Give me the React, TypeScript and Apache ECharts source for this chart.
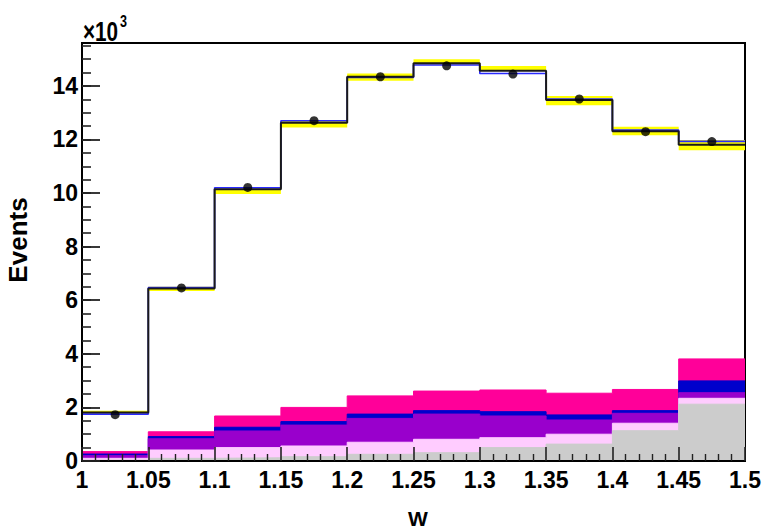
import React, { useEffect, useRef } from "react";
import * as echarts from "echarts";

// Bin edges in W
const binEdges = [1.0, 1.05, 1.1, 1.15, 1.2, 1.25, 1.3, 1.35, 1.4, 1.45, 1.5];

// Event counts per bin, in units of 10^3
const dataK = [1.73, 6.46, 10.21, 12.7, 14.34, 14.75, 14.44, 13.51, 12.29, 11.92];
const mcTotalK = [1.81, 6.44, 10.14, 12.62, 14.34, 14.84, 14.56, 13.47, 12.31, 11.8];
const mcAltK = [1.75, 6.47, 10.2, 12.7, 14.31, 14.78, 14.46, 13.51, 12.35, 11.93];
const bandLowK = [1.79, 6.34, 9.96, 12.45, 14.19, 14.8, 14.56, 13.28, 12.16, 11.6];
const bandHighK = [1.88, 6.5, 10.15, 12.72, 14.46, 14.99, 14.74, 13.62, 12.47, 11.98];

// Background components (stacked from the bottom up), in units of 10^3
const greyK = [0.03, 0.1, 0.12, 0.16, 0.25, 0.31, 0.5, 0.63, 1.13, 2.12];
const lightPinkK = [0.07, 0.31, 0.38, 0.4, 0.45, 0.5, 0.37, 0.37, 0.28, 0.22];
const purpleK = [0.1, 0.42, 0.62, 0.78, 0.89, 0.94, 0.81, 0.53, 0.37, 0.21];
const blueK = [0.06, 0.08, 0.14, 0.13, 0.16, 0.13, 0.16, 0.19, 0.1, 0.44];
const magentaK = [0.09, 0.18, 0.42, 0.53, 0.68, 0.73, 0.81, 0.81, 0.79, 0.82];

const yLabelValues = [0, 2, 4, 6, 8, 10, 12, 14];

const FONT = "'Liberation Sans', Arial, sans-serif";

function stepPoints(values: number[]): number[][] {
  const pts: number[][] = [];
  values.forEach((v, i) => {
    pts.push([binEdges[i], v]);
    pts.push([binEdges[i + 1], v]);
  });
  return pts;
}

function cumulative(layers: number[][]): number[][] {
  const out: number[][] = [];
  let run = layers[0].map(() => 0);
  layers.forEach((layer) => {
    run = run.map((r, i) => r + layer[i]);
    out.push(run.slice());
  });
  return out;
}

export default function App() {
  const ref = useRef<HTMLDivElement>(null);

  useEffect(() => {
    if (!ref.current) return;
    const chart = echarts.init(ref.current, null, { renderer: "svg" });

    const [greyTop, lightPinkTop, purpleTop, blueTop, magentaTop] = cumulative([
      greyK,
      lightPinkK,
      purpleK,
      blueK,
      magentaK,
    ]);

    const fillLayer = (name: string, tops: number[], color: string, z: number) => ({
      name,
      type: "line",
      data: stepPoints(tops),
      symbol: "none",
      z,
      lineStyle: { color, width: 1 },
      areaStyle: { color, opacity: 1 },
    });

    const binCenters = dataK.map((_, i) => (binEdges[i] + binEdges[i + 1]) / 2);

    const minorYTicks: number[] = [];
    for (let i = 0; i <= 31; i++) minorYTicks.push(i * 0.5);

    const labelStyle = {
      color: "#000",
      fontFamily: FONT,
      fontWeight: "bold",
      fontSize: 23,
    };

    chart.setOption({
      animation: false,
      backgroundColor: "#ffffff",
      grid: {
        left: 82,
        right: 20,
        top: 43,
        bottom: 70,
        show: true,
        borderColor: "#000",
        borderWidth: 2,
        backgroundColor: "#fff",
      },
      xAxis: {
        type: "value",
        min: 1,
        max: 1.5,
        interval: 0.05,
        z: 10,
        axisLine: { show: true, onZero: false, lineStyle: { color: "#000", width: 2 } },
        axisTick: { show: true, inside: true, length: 14, lineStyle: { color: "#222", width: 1.6 } },
        minorTick: { show: true, splitNumber: 5, length: 7, lineStyle: { color: "#222", width: 1.4 } },
        splitLine: { show: false },
        axisLabel: {
          ...labelStyle,
          margin: 7,
          formatter: (v: number) => String(Math.round(v * 100) / 100),
        },
      },
      yAxis: [
        {
          type: "value",
          position: "left",
          min: 0,
          max: 15.6,
          interval: 0.5,
          z: 10,
          axisLine: { show: true, onZero: false, lineStyle: { color: "#000", width: 2 } },
          axisTick: {
            show: true,
            inside: true,
            length: 9,
            customValues: minorYTicks,
            lineStyle: { color: "#222", width: 1.6 },
          },
          splitLine: { show: false },
          axisLabel: {
            ...labelStyle,
            customValues: yLabelValues,
            margin: 4,
            formatter: (v: number) => String(v),
          },
        },
        {
          type: "value",
          position: "left",
          min: 0,
          max: 15.6,
          interval: 0.5,
          z: 11,
          axisLine: { show: false },
          axisTick: {
            show: true,
            inside: true,
            length: 18,
            customValues: yLabelValues,
            lineStyle: { color: "#222", width: 1.8 },
          },
          splitLine: { show: false },
          axisLabel: { show: false },
        },
      ],
      graphic: [
        {
          type: "group",
          x: 83,
          y: 0,
          scaleX: 0.74,
          children: [
            {
              type: "text",
              x: 0,
              y: 31,
              style: {
                text: "×10",
                font: `bold 28px ${FONT}`,
                fill: "#000",
                verticalAlign: "middle",
                align: "left",
              },
            },
            {
              type: "text",
              x: 50,
              y: 21,
              style: {
                text: "3",
                font: `bold 17px ${FONT}`,
                fill: "#000",
                verticalAlign: "middle",
                align: "left",
              },
            },
          ],
        },
        {
          type: "text",
          x: 18,
          y: 240,
          rotation: Math.PI / 2,
          style: {
            text: "Events",
            font: `bold 26px ${FONT}`,
            fill: "#000",
            verticalAlign: "middle",
            align: "center",
          },
        },
        {
          type: "text",
          x: 418,
          y: 518,
          style: {
            text: "W",
            font: `bold 21px ${FONT}`,
            fill: "#000",
            verticalAlign: "middle",
            align: "center",
          },
        },
      ],
      series: [
        fillLayer("Magenta", magentaTop, "#ff0099", 2),
        fillLayer("Blue", blueTop, "#0000cc", 3),
        fillLayer("Purple", purpleTop, "#9900cc", 4),
        fillLayer("LightPink", lightPinkTop, "#ffccff", 5),
        fillLayer("Grey", greyTop, "#cccccc", 6),
        {
          name: "Uncertainty",
          type: "custom",
          z: 7,
          data: dataK.map((_, i) => [binEdges[i], binEdges[i + 1], bandLowK[i], bandHighK[i]]),
          encode: { x: [0, 1], y: [2, 3] },
          renderItem: (params: any, api: any) => {
            const p1 = api.coord([api.value(0), api.value(3)]);
            const p2 = api.coord([api.value(1), api.value(2)]);
            return {
              type: "rect",
              shape: { x: p1[0], y: p1[1], width: p2[0] - p1[0], height: p2[1] - p1[1] },
              style: { fill: "#ffff00" },
            };
          },
        },
        {
          name: "MC alt",
          type: "line",
          z: 8,
          data: stepPoints(mcAltK),
          symbol: "none",
          lineStyle: { color: "#2a2aff", width: 1.6 },
        },
        {
          name: "MC total",
          type: "line",
          z: 9,
          data: stepPoints(mcTotalK),
          symbol: "none",
          lineStyle: { color: "#1a1a1a", width: 2 },
        },
        {
          name: "Data",
          type: "scatter",
          z: 12,
          data: dataK.map((v, i) => [binCenters[i], v]),
          symbol: "circle",
          symbolSize: 9,
          itemStyle: { color: "#000" },
        },
      ],
    });

    return () => chart.dispose();
  }, []);

  return <div ref={ref} style={{ width: 765, height: 531, position: "absolute", left: 0, top: 0 }} />;
}
